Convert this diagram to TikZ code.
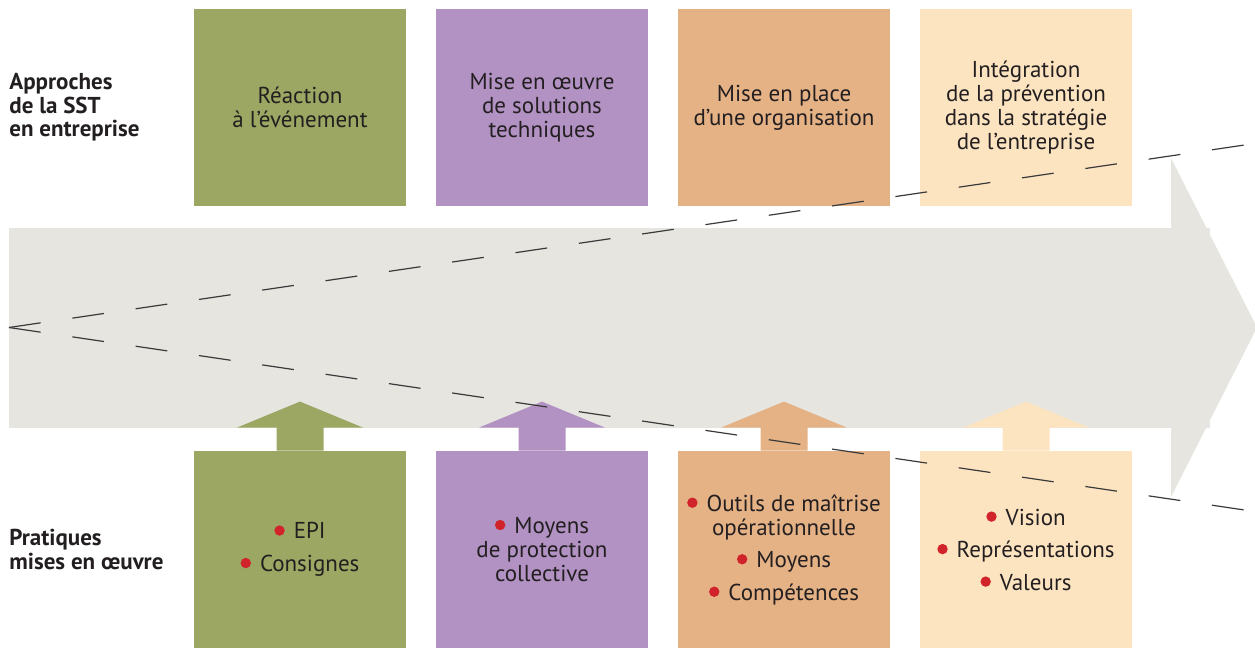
\documentclass[tikz,border=0pt]{standalone}
\usepackage{fontspec}
\setmainfont{PT Sans}
\definecolor{cgreen}{HTML}{9BA763}
\definecolor{cpurple}{HTML}{B291C3}
\definecolor{corange}{HTML}{E5B286}
\definecolor{cbeige}{HTML}{FDE4C1}
\definecolor{cgray}{HTML}{E6E5E0}
\definecolor{ctext}{HTML}{231F20}
\definecolor{cbul}{HTML}{D1232A}
\definecolor{cdash}{HTML}{3A3A3A}
\newcommand\bul{\tikz[baseline=-4.2pt]\fill[cbul] (0,0) circle (2.6pt);\hspace{4.5pt}}
\begin{document}
\begin{tikzpicture}[x=0.5pt,y=-0.5pt,
  box/.style={rectangle, minimum width=106pt, minimum height=98.5pt, inner sep=0pt,
    align=center, text=ctext, font=\fontsize{11.5}{12}\selectfont},
  side/.style={anchor=west, inner sep=0pt, align=left, text=ctext,
    font=\bfseries\fontsize{11.5}{11.75}\selectfont},
  dashline/.style={draw=cdash, line width=0.6pt, dash pattern=on 16pt off 16pt}]
\useasboundingbox (0,0) rectangle (1255,648);
% big arrow
\fill[cgray] (9,228) rectangle (1210,428);
\fill[cgray] (1171,158) -- (1257,327.5) -- (1171,497) -- cycle;
% side labels
\node[side] (l1) at (9,107.5) {Approches\\de la SST\\en entreprise};
\node[side] (l2) at (9,549.5) {Pratiques\\mises en œuvre};
% top boxes
\node[box, fill=cgreen]  (t1) at (300,107.5)  {Réaction\\à l’événement};
\node[box, fill=cpurple] (t2) at (542,107.5)  {Mise en œuvre\\de solutions\\techniques};
\node[box, fill=corange] (t3) at (784,107.5)  {Mise en place\\d’une organisation};
\node[box, fill=cbeige]  (t4) at (1026,107.5) {Intégration\\de la prévention\\dans la stratégie\\de l’entreprise};
% bottom boxes
\node[box, fill=cgreen]  (b1) at (300,549.5)  {\bul EPI\\[4.25pt]\bul Consignes};
\node[box, fill=cpurple] (b2) at (542,549.5)  {\bul Moyens\\de protection\\collective};
\node[box, fill=corange] (b3) at (784,549.5)  {\bul Outils de maîtrise\\opérationnelle\\[4.25pt]\bul Moyens\\[4.25pt]\bul Compétences};
\node[box, fill=cbeige]  (b4) at (1026,549.5) {\bul Vision\\[4.25pt]\bul Représentations\\[4.25pt]\bul Valeurs};
% up arrows
\foreach \b/\c in {b1/cgreen, b2/cpurple, b3/corange, b4/cbeige}{
  \fill[\c] (\b.north) ++(-23.5,0) -- ++(0,-23) -- ++(-39.5,0) -- ++(63,-26)
    -- ++(63,26) -- ++(-39.5,0) -- ++(0,23) -- cycle;
}
% dashed lines
\coordinate (o) at (9,327.5);
\coordinate (e1) at (1256,143.3);
\coordinate (e2) at (1256,511.7);
\draw[dashline] (o) -- (e1);
\draw[dashline] (o) -- (e2);
\end{tikzpicture}
\end{document}
